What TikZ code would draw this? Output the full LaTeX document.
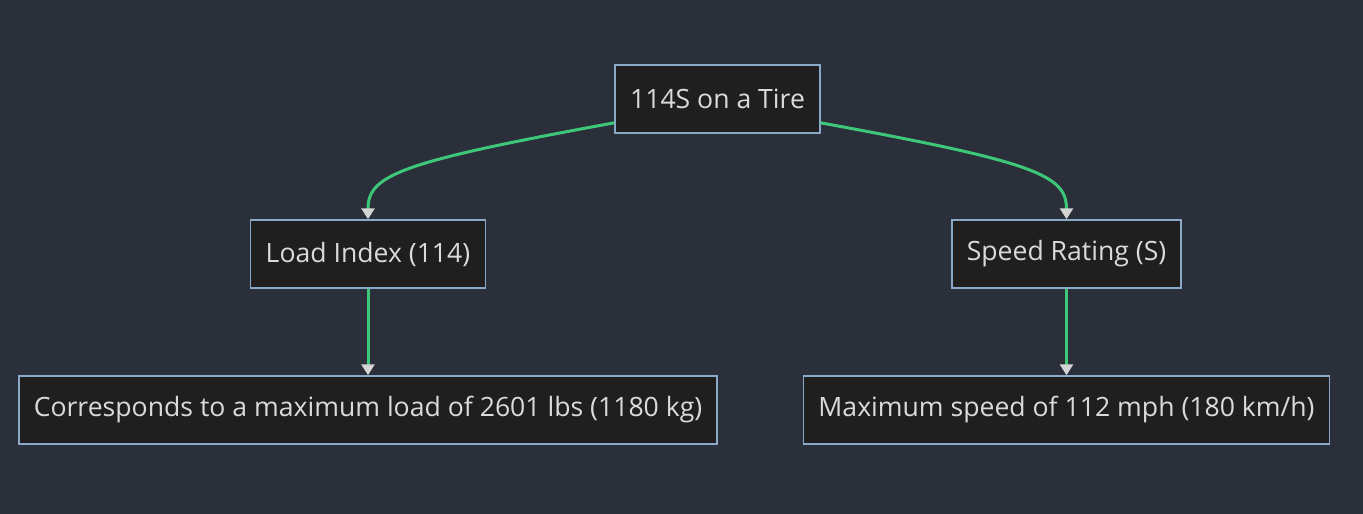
\documentclass[tikz,border=0pt]{standalone}
\usepackage{fontspec}
\setmainfont{Open Sans}
\usetikzlibrary{arrows.meta, positioning}
\definecolor{bgcol}{HTML}{2A2F3A}
\definecolor{boxfill}{HTML}{1F1F1F}
\definecolor{boxline}{HTML}{89A9C9}
\definecolor{txtcol}{HTML}{DADADA}
\definecolor{edgecol}{HTML}{3CC878}
\definecolor{tipcol}{HTML}{D4D4D4}
\tikzset{
  box/.style={draw=boxline, fill=boxfill, line width=1.5pt, text=txtcol,
    inner xsep=15pt, minimum height=68pt, font=\fontsize{26.6}{30}\selectfont},
  edge/.style={draw=edgecol, line width=3pt,
    -{Triangle[color=tipcol, width=13pt, length=11pt]}}
}

\begin{document}
\begin{tikzpicture}[x=1pt, y=-1pt]
\fill[bgcol] (0,0) rectangle (1363,514);
\useasboundingbox (0,0) rectangle (1363,514);
% Knoten
\node[box] (tire) at (717.5,99) {114S on a Tire};
\node[box] (load) at (368,254) {Load Index (114)};
\node[box] (speed) at (1066.5,254) {Speed Rating (S)};
\node[box] (loadval) at (368,410) {Corresponds to a maximum load of 2601 lbs (1180 kg)};
\node[box] (speedval) at (1066.5,410) {Maximum speed of 112 mph (180 km/h)};

% Pfeile
\draw[edge] (tire.193) .. controls (400,162) and (368,175) .. (load.north);
\draw[edge] (tire.347) .. controls (1035,162) and (1066.5,175) .. (speed.north);
\draw[edge] (load) -- (loadval);
\draw[edge] (speed) -- (speedval);
\end{tikzpicture}
\end{document}
